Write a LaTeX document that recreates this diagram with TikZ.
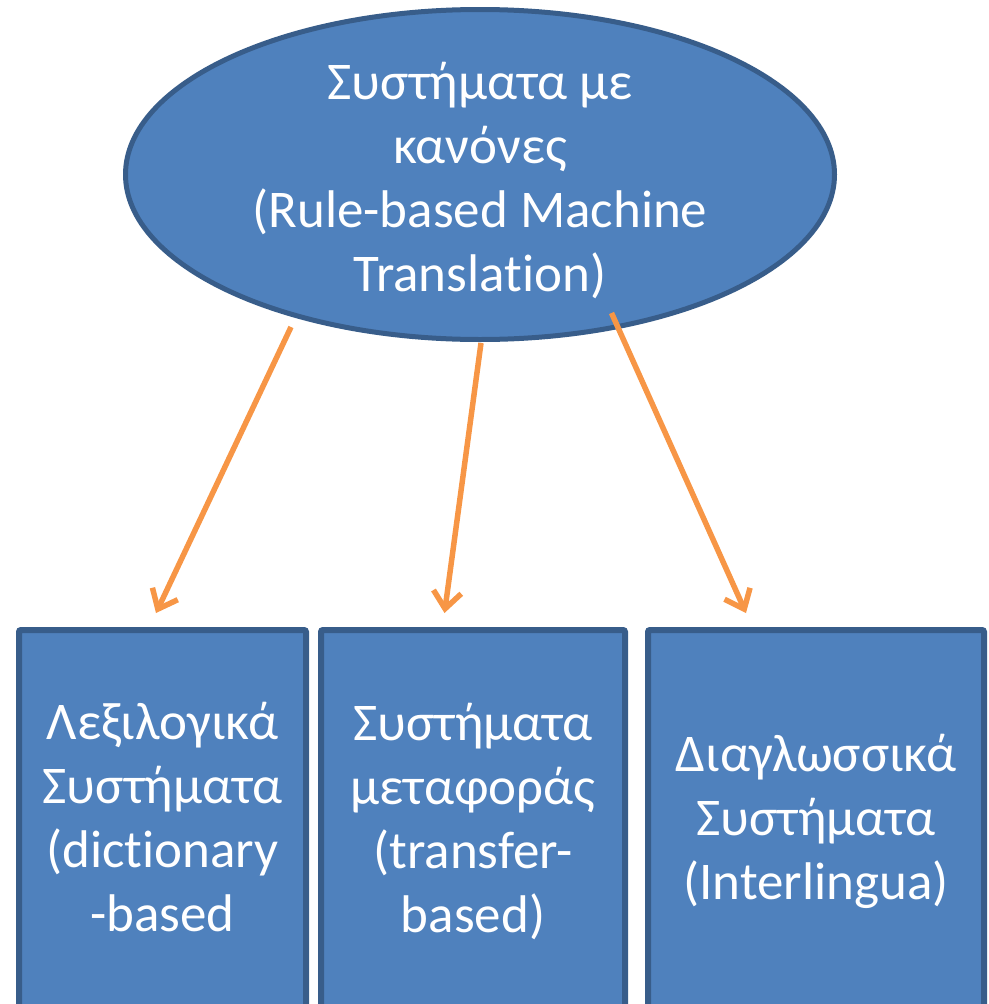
\documentclass[tikz,border=0pt]{standalone}
\usepackage{fontspec}
\setmainfont{Carlito}[Ligatures=NoCommon]
\usepackage{tikz}
\usetikzlibrary{shapes.geometric,arrows.meta}

\definecolor{rbblue}{HTML}{4F81BD}
\definecolor{rbedge}{HTML}{385D8A}
\definecolor{rborange}{HTML}{F79646}

\tikzset{
  rulebased/.style={ellipse,fill=rbblue,draw=rbedge,line width=5pt,inner sep=0pt,
    minimum width=709pt,minimum height=330pt},
  family/.style={rectangle,fill=rbblue,draw=rbedge,line width=6pt,rounded corners=2pt,
    inner sep=0pt,minimum height=383pt},
  label/.style={text=white,align=center,font=\fontsize{53}{64}\selectfont},
  link/.style={draw=rborange,line width=5.5pt,-{Straight Barb[length=17pt,width=28pt]}}
}

\begin{document}
\begin{tikzpicture}[x=1pt,y=-1pt]
  \useasboundingbox (0,0) rectangle (988,1004);

  % top level
  \node[rulebased] (rbmt) at (480,174.5) {};
  \node[label] (rbmtxt) at (480,181) {Συστήματα με\\κανόνες\\(Rule-based Machine\\Translation)};

  % the three families
  \node[family,minimum width=287pt] (dict) at (162.5,821.5) {};
  \node[family,minimum width=304pt] (trans) at (473,821.5) {};
  \node[family,minimum width=336pt] (inter) at (816,821.5) {};

  \node[label] (dicttxt) at (162.5,817) {Λεξιλογικά\\Συστήματα\\(dictionary\\-based};
  \node[label] (transtxt) at (trans) {Συστήματα\\μεταφοράς\\(transfer-\\based)};
  \node[label] (intertxt) at (inter) {Διαγλωσσικά\\Συστήματα\\(Interlingua)};

  % arrow ends
  \coordinate (a1) at (291,327);
  \coordinate (b1) at (156,613);
  \coordinate (a2) at (481,343);
  \coordinate (b2) at (444.5,613);
  \coordinate (a3) at (611.5,313);
  \coordinate (b3) at (746,613);

  \foreach \i in {1,2,3}
    \draw[link] (a\i) -- (b\i);
\end{tikzpicture}
\end{document}
